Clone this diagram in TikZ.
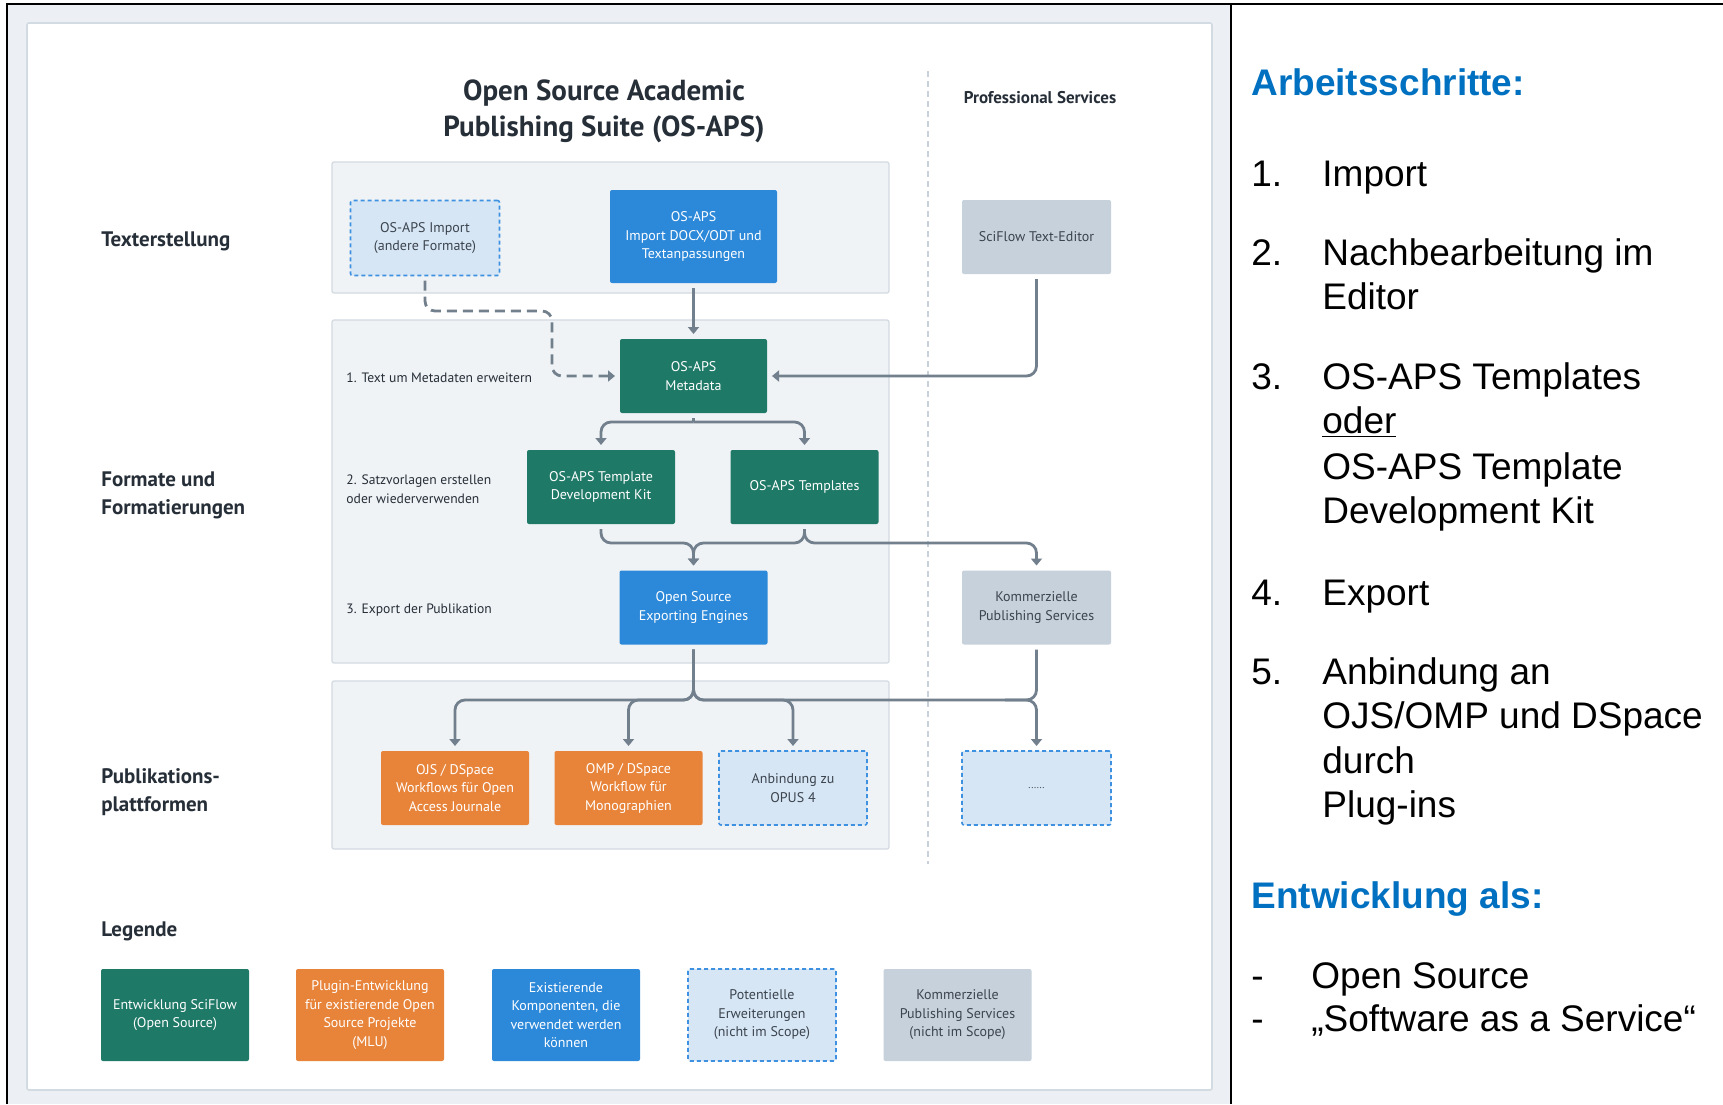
\documentclass[tikz,border=0pt]{standalone}
\usepackage{fontspec}
\setmainfont{PT Sans}
\newfontfamily\panelfont{Liberation Sans}
\usetikzlibrary{arrows.meta}
\definecolor{osgreen}{RGB}{31,121,103}
\definecolor{osblue}{RGB}{44,136,217}
\definecolor{osorange}{RGB}{232,132,58}
\definecolor{osgray}{RGB}{198,209,219}
\definecolor{oslight}{RGB}{214,230,245}
\definecolor{osdash}{RGB}{62,145,224}
\definecolor{ostext}{RGB}{60,68,78}
\definecolor{ostitle}{RGB}{38,46,56}
\definecolor{oswire}{RGB}{114,127,141}
\definecolor{groupfill}{RGB}{240,243,246}
\definecolor{groupline}{RGB}{210,218,226}
\definecolor{bggray}{RGB}{236,240,244}
\definecolor{sepline}{RGB}{201,210,219}
\definecolor{panelblue}{RGB}{0,112,192}
\tikzset{
  stage/.style={fill=groupfill,draw=groupline,line width=0.6pt,rounded corners=1pt},
  box/.style={rectangle,rounded corners=1pt,minimum width=74pt,minimum height=37pt,inner sep=0pt,outer sep=2.5pt,align=center,font=\fontsize{7}{9.25}\selectfont},
  devbox/.style={box,fill=osgreen,text=white},
  pluginbox/.style={box,fill=osorange,text=white},
  compbox/.style={box,fill=osblue,text=white},
  ideabox/.style={box,fill=oslight,draw=osdash,line width=0.8pt,dash pattern=on 2pt off 1.5pt,text=ostext},
  servicebox/.style={box,fill=osgray,text=ostext},
  rowlabel/.style={anchor=west,align=left,inner sep=0pt,font=\bfseries\fontsize{10.5}{14}\selectfont,text=ostitle},
  steplabel/.style={anchor=west,align=left,inner sep=0pt,font=\fontsize{6.8}{9.25}\selectfont,text=ostitle},
  wire/.style={draw=oswire,line width=1.4pt,rounded corners=5pt},
  flow/.style={wire,-{Triangle[length=3.5pt,width=5.5pt]}},
  panel/.style={anchor=base west,inner sep=0pt,font=\panelfont\fontsize{18.5}{22}\selectfont},
  panelhead/.style={panel,font=\panelfont\bfseries\fontsize{18.5}{22}\selectfont,text=panelblue}
}
\begin{document}
\begin{tikzpicture}[x=0.5pt,y=-0.5pt]
  \useasboundingbox (0,0) rectangle (1723,1104);
  \fill[white] (0,0) rectangle (1723,1104);
  \fill[bggray] (7,4) rectangle (1231,1104);
  \draw[line width=1pt] (7,1104) -- (7,4) -- (1723,4);
  \draw[line width=1pt] (1231,4) -- (1231,1104);
  \filldraw[fill=white,draw=groupline,line width=0.8pt,rounded corners=1pt] (27,23) rectangle (1212,1090);

  \draw[stage] (332,162) rectangle (889,293);
  \draw[stage] (332,320) rectangle (889,663);
  \draw[stage] (332,681) rectangle (889,849);
  \draw[sepline,line width=1pt,dash pattern=on 3pt off 2pt] (928,71) -- (928,864);

  \node[font=\bfseries\fontsize{14.5}{18}\selectfont,text=ostitle,align=center] (title) at (604,111) {Open Source Academic\\Publishing Suite (OS-APS)};
  \node[font=\bfseries\fontsize{8.5}{10}\selectfont,text=ostitle] (profserv) at (1040,98) {Professional Services};

  \node[rowlabel] (lbltext) at (101,241) {Texterstellung};
  \node[rowlabel] (lblformat) at (101,495) {Formate und\\Formatierungen};
  \node[rowlabel] (lblpub) at (101,792) {Publikations-\\plattformen};
  \node[rowlabel] (lbllegend) at (101,931) {Legende};

  \node[steplabel] (step1) at (346,378) {1. Text um Metadaten erweitern};
  \node[steplabel] (step2) at (346,489) {2. Satzvorlagen erstellen\\oder wiederverwenden};
  \node[steplabel] (step3) at (346,610) {3. Export der Publikation};

  \node[ideabox,minimum width=74.5pt,minimum height=37.5pt] (imp) at (425,238) {OS-APS Import\\(andere Formate)};
  \node[compbox,minimum width=83.5pt,minimum height=46.5pt] (docx) at (693.5,236.5) {OS-APS\\Import DOCX/ODT und\\Textanpassungen};
  \node[servicebox,minimum width=74.5pt] (sciflow) at (1036.5,237) {SciFlow Text-Editor};
  \node[devbox,minimum width=73.5pt] (meta) at (693.5,376) {OS-APS\\Metadata};
  \node[devbox] (devkit) at (601,487) {OS-APS Template\\Development Kit};
  \node[devbox] (templ) at (804.5,487) {OS-APS Templates};
  \node[compbox] (export) at (693.5,607.5) {Open Source\\Exporting Engines};
  \node[servicebox,minimum width=74.5pt] (komm) at (1036.5,607.5) {Kommerzielle\\Publishing Services};
  \node[pluginbox] (ojs) at (455,788) {OJS / DSpace\\Workflows für Open\\Access Journale};
  \node[pluginbox] (omp) at (628.5,788) {OMP / DSpace\\Workflow für\\Monographien};
  \node[ideabox] (opus) at (793,788) {Anbindung zu\\OPUS 4};
  \node[ideabox,minimum width=74.5pt,font=\fontsize{5}{6}\selectfont] (more) at (1036.5,788) {......};

  \node[devbox,minimum height=46pt] (leg1) at (175,1015) {Entwicklung SciFlow\\(Open Source)};
  \node[pluginbox,minimum height=46pt] (leg2) at (370,1015) {Plugin-Entwicklung\\für existierende Open\\Source Projekte\\(MLU)};
  \node[compbox,minimum height=46pt] (leg3) at (566,1015) {Existierende\\Komponenten, die\\verwendet werden\\können};
  \node[ideabox,minimum height=46pt] (leg4) at (762,1015) {Potentielle\\Erweiterungen\\(nicht im Scope)};
  \node[servicebox,minimum height=46pt] (leg5) at (957.5,1015) {Kommerzielle\\Publishing Services\\(nicht im Scope)};

  \coordinate (jdash) at (552,311);
  \coordinate (jmeta) at (693.5,422);
  \coordinate (jtpl) at (693.5,543);
  \coordinate (jexp) at (693.5,700);
  \coordinate (jkomm) at (1005,700);

  \draw[flow] (docx) -- (meta);
  \draw[flow,dash pattern=on 5pt off 3pt] (imp.south) |- (jdash) |- (meta.west);
  \draw[flow] (sciflow.south) |- (meta.east);
  \draw[wire] (meta.south) -- (jmeta);
  \draw[flow] (jmeta) -| (devkit.north);
  \draw[flow] (jmeta) -| (templ.north);
  \draw[flow] (devkit.south) |- (jtpl) -- (export.north);
  \draw[flow] (templ.south) |- (jtpl) -- (export.north);
  \draw[flow] (templ.south) -- (templ.south |- jtpl) -| (komm.north);
  \draw[flow] (export.south) -- (jexp) -| (ojs.north);
  \draw[flow] (export.south) -- (jexp) -| (omp.north);
  \draw[flow] (export.south) -- (jexp) -| (opus.north);
  \draw[flow] (export.south) -- (jexp) -| (more.north);
  \draw[wire] (komm.south) |- (jkomm);

  \node[panelhead] (headsteps) at (1251,95) {Arbeitsschritte:};
  \node[panel] (n1) at (1251,186) {1.};
  \node[panel] (t1) at (1322,186) {Import};
  \node[panel] (n2) at (1251,265) {2.};
  \node[panel] (t2a) at (1322,265) {Nachbearbeitung im};
  \node[panel] (t2b) at (1322,309) {Editor};
  \node[panel] (n3) at (1251,389) {3.};
  \node[panel] (t3a) at (1322,389) {OS-APS Templates};
  \node[panel] (t3b) at (1322,433) {\underline{oder}};
  \node[panel] (t3c) at (1322,479) {OS-APS Template};
  \node[panel] (t3d) at (1322,523) {Development Kit};
  \node[panel] (n4) at (1251,605) {4.};
  \node[panel] (t4) at (1322,605) {Export};
  \node[panel] (n5) at (1251,684) {5.};
  \node[panel] (t5a) at (1322,684) {Anbindung an};
  \node[panel] (t5b) at (1322,728) {OJS/OMP und DSpace};
  \node[panel] (t5c) at (1322,773) {durch};
  \node[panel] (t5d) at (1322,817) {Plug-ins};
  \node[panelhead] (headdev) at (1251,908) {Entwicklung als:};
  \node[panel] (d1) at (1251,988) {-};
  \node[panel] (o1) at (1311,988) {Open Source};
  \node[panel] (d2) at (1251,1031) {-};
  \node[panel] (o2) at (1311,1031) {„Software as a Service“};
\end{tikzpicture}
\end{document}
